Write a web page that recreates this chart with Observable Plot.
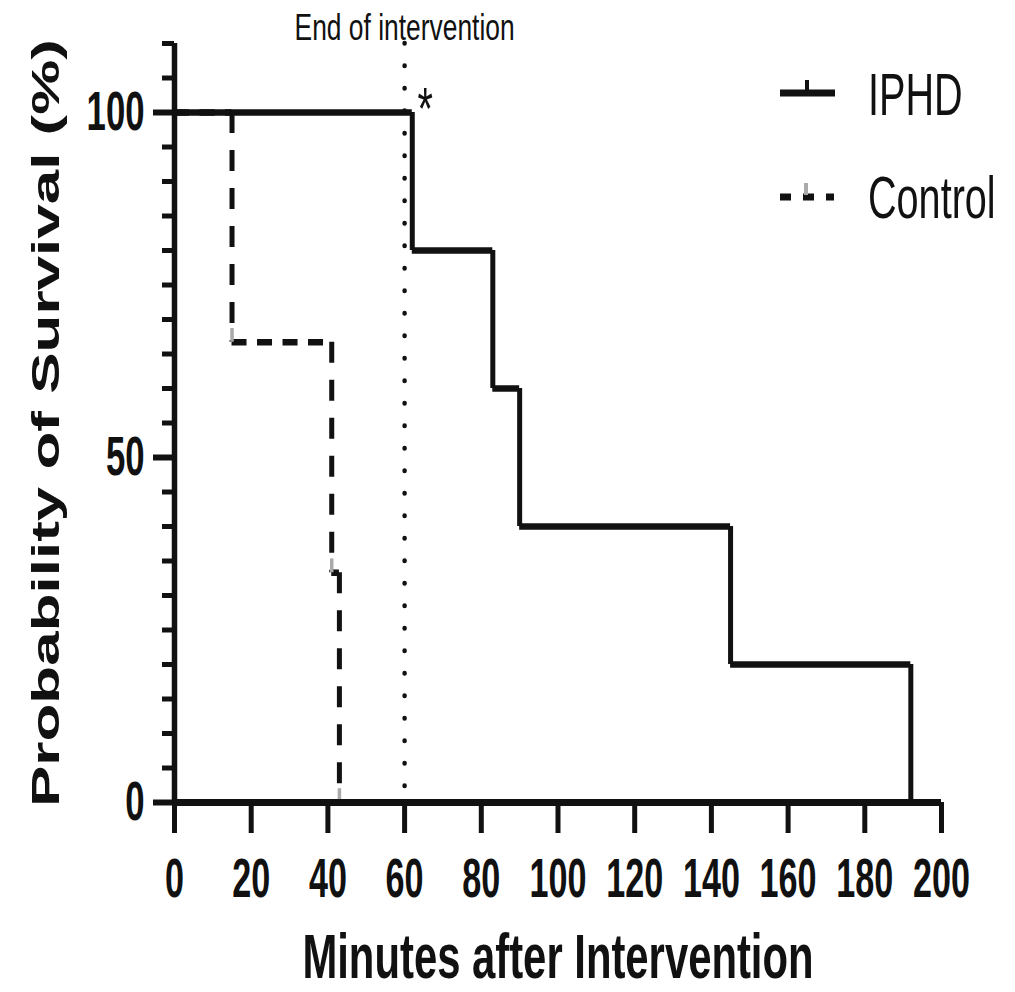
<!DOCTYPE html>
<html>
<head>
<meta charset="utf-8">
<script src="https://cdn.jsdelivr.net/npm/d3@7"></script>
<script src="https://cdn.jsdelivr.net/npm/@observablehq/plot@0.6"></script>
<style>
  body { margin: 0; background: #fff; }
  #chart svg { display: block; }
</style>
</head>
<body>
<div id="chart"></div>
<script>
// ---- data ----
const seriesNames = ["IPHD", "Control"];
const iphdTimes = [0, 62, 83, 90, 145, 192];
const iphdSurvival = [100, 80, 60, 40, 20, 0];
const controlTimes = [0, 15, 41, 43];
const controlSurvival = [100, 66.7, 33.3, 0];
const xTicks = [0, 20, 40, 60, 80, 100, 120, 140, 160, 180, 200];
const yMajorTicks = [0, 50, 100];
const yMinorTicks = [0, 5, 10, 15, 20, 25, 30, 35, 40, 45, 50, 55, 60, 65, 70, 75, 80, 85, 90, 95, 100, 105, 110];
const interventionEnd = 60;
const annotationText = "End of intervention";
const significanceMark = "*";
const xLabel = "Minutes after Intervention";
const yLabel = "Probability of Survival (%)";

// ---- step segments built from the arrays ----
function steps(times, surv, name) {
  const h = [], v = [];
  for (let i = 0; i + 1 < times.length; i++) {
    h.push({series: name, x1: times[i], x2: times[i + 1], y: surv[i]});
    v.push({series: name, x: times[i + 1], y1: surv[i], y2: surv[i + 1]});
  }
  return {h, v};
}
const iphd = steps(iphdTimes, iphdSurvival, seriesNames[0]);
const ctrl = steps(controlTimes, controlSurvival, seriesNames[1]);
const censor = controlTimes.slice(1).map((t, i) => ({x: t, y: controlSurvival[i + 1]}));

const ink = "#111";
const chart = Plot.plot({
  width: 1015,
  height: 992,
  marginLeft: 174,
  marginRight: 74,
  marginTop: 43,
  marginBottom: 190,
  x: {domain: [0, 200]},
  y: {domain: [0, 110]},
  style: {fontFamily: "'Liberation Sans', Arial, sans-serif", color: ink, background: "#fff"},
  marks: [
    Plot.ruleX([interventionEnd], {stroke: ink, strokeWidth: 4.5, strokeDasharray: "0.5,22", strokeLinecap: "round"}),
    Plot.ruleY(ctrl.h, {x1: "x1", x2: "x2", y: "y", stroke: ink, strokeWidth: 6.5, strokeDasharray: "15,10.5"}),
    Plot.ruleX(ctrl.v, {x: "x", y1: "y1", y2: "y2", stroke: ink, strokeWidth: 5, strokeDasharray: "21,17"}),
    Plot.ruleX(censor, {x: "x", y1: "y", y2: d => d.y + 2, stroke: "#aaa", strokeWidth: 3.5}),
    Plot.ruleY(iphd.h, {x1: "x1", x2: "x2", y: "y", stroke: ink, strokeWidth: 6.5}),
    Plot.ruleX(iphd.v, {x: "x", y1: "y1", y2: "y2", stroke: ink, strokeWidth: 5}),
    Plot.ruleX([0], {stroke: ink, strokeWidth: 5.5}),
    Plot.ruleY([0], {stroke: ink, strokeWidth: 7}),
    Plot.axisY(yMinorTicks, {tickSize: 12, strokeWidth: 5, fill: "none", label: null}),
    Plot.axisY(yMajorTicks, {tickSize: 21, strokeWidth: 6, tickPadding: 9, fontSize: 56, fontWeight: "bold", label: null}),
    Plot.axisX(xTicks, {tickSize: 31, strokeWidth: 5, tickPadding: 24, fontSize: 56, fontWeight: "bold", label: null}),
    Plot.text([xLabel], {text: d => d, frameAnchor: "bottom", textAnchor: "middle", lineAnchor: "bottom", dy: 175, fontSize: 62.8, fontWeight: "bold"}),
    Plot.text([yLabel], {text: d => d, frameAnchor: "left", textAnchor: "middle", rotate: -90, lineAnchor: "bottom", dx: -116, fontSize: 62, fontWeight: "bold"}),
    Plot.text([interventionEnd], {x: d => d, text: () => annotationText, frameAnchor: "top", textAnchor: "middle", lineAnchor: "bottom", dy: -4, fontSize: 37.7}),
    Plot.text([{x: iphdTimes[1], y: iphdSurvival[0]}], {x: "x", y: "y", text: () => significanceMark, textAnchor: "middle", lineAnchor: "bottom", dx: 13, dy: 16, fontSize: 60})
  ]
});

// squeeze text horizontally like the reference (narrow lettering)
function squeezeEl(t, sx, sy = 1) {
  const x = parseFloat(t.getAttribute("x")) || 0;
  const tr = t.getAttribute("transform") || "";
  t.setAttribute("transform", `${tr} translate(${x},0) scale(${sx},${sy}) translate(${-x},0)`);
}
function squeezeSel(sel, sx, sy = 1) {
  chart.querySelectorAll(sel).forEach(t => squeezeEl(t, sx, sy));
}
squeezeSel('g[aria-label="x-axis tick label"] text', 0.61);
squeezeSel('g[aria-label="y-axis tick label"] text', 0.62);
chart.querySelectorAll("text").forEach(t => {
  const s = t.textContent;
  if (s === xLabel) squeezeEl(t, 0.666);
  else if (s === yLabel) squeezeEl(t, 1, 0.63);
  else if (s === annotationText) squeezeEl(t, 0.70);
  else if (s === significanceMark) squeezeEl(t, 0.66);
});

// legend
const svg = d3.select(chart);
const lg = svg.append("g").attr("aria-label", "legend");
lg.append("line").attr("x1", 780).attr("x2", 835).attr("y1", 93).attr("y2", 93)
  .attr("stroke", ink).attr("stroke-width", 7);
lg.append("line").attr("x1", 807).attr("x2", 807).attr("y1", 80).attr("y2", 93)
  .attr("stroke", ink).attr("stroke-width", 4);
lg.append("line").attr("x1", 780).attr("x2", 834).attr("y1", 197).attr("y2", 197)
  .attr("stroke", ink).attr("stroke-width", 7).attr("stroke-dasharray", "11,12");
lg.append("line").attr("x1", 806).attr("x2", 806).attr("y1", 183).attr("y2", 195)
  .attr("stroke", "#aaa").attr("stroke-width", 4);
[[seriesNames[0], 115], [seriesNames[1], 218]].forEach(([name, base]) => {
  lg.append("text").attr("x", 0).attr("y", 0)
    .attr("text-anchor", "start")
    .attr("transform", `translate(868,${base}) scale(0.66,1)`)
    .attr("font-size", 60).attr("fill", ink).text(name);
});

document.getElementById("chart").appendChild(chart);
</script>
</body>
</html>
